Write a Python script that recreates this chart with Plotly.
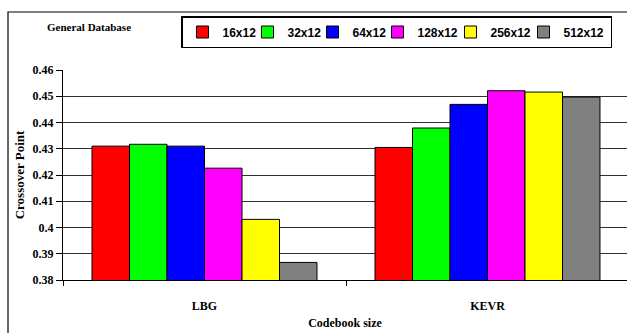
import plotly.graph_objects as go

# Codebook families on the x axis
methods = ["LBG", "KEVR"]

# Crossover point for each codebook size
size_16 = [0.4310, 0.4305]
size_32 = [0.4317, 0.4379]
size_64 = [0.4310, 0.4469]
size_128 = [0.4226, 0.4521]
size_256 = [0.4031, 0.4516]
size_512 = [0.3867, 0.4497]

series_names = ["16x12", "32x12", "64x12", "128x12", "256x12", "512x12"]
series_values = [size_16, size_32, size_64, size_128, size_256, size_512]
series_colors = ["#ff0000", "#00ff00", "#0000ff", "#ff00ff", "#ffff00", "#808080"]
legend_widths = [20, 20, 20, 28, 28, 42]

y_ticks = [0.38, 0.39, 0.40, 0.41, 0.42, 0.43, 0.44, 0.45, 0.46]
y_tick_text = ["0.38", "0.39", "0.4", "0.41", "0.42", "0.43", "0.44", "0.45", "0.46"]

serif = "Liberation Serif"
sans = "Liberation Sans"

fig = go.Figure()
for name, vals, color, lw in zip(series_names, series_values, series_colors, legend_widths):
    fig.add_trace(go.Bar(
        x=methods, y=vals, name=name,
        marker=dict(color=color, line=dict(color="#000000", width=1)),
        legendwidth=lw,
    ))

W, H = 627, 333
L, R, T, B = 63, 0, 70, 53
pw, ph = W - L - R, H - T - B


def px_x(px):
    return (px - L) / pw


def px_y(py):
    return (H - B - py) / ph


fig.update_layout(
    width=W, height=H,
    margin=dict(l=L, r=R, t=T, b=B),
    paper_bgcolor="white", plot_bgcolor="white",
    barmode="group", bargap=0.205, bargroupgap=0,
    showlegend=True,
    legend=dict(
        orientation="h", x=px_x(612), xanchor="right", y=px_y(16), yanchor="top",
        bordercolor="#000000", borderwidth=1.5, bgcolor="white",
        font=dict(family=sans, size=12, color="#000000", weight="bold"),
        traceorder="normal",
    ),
    xaxis=dict(
        range=[-0.5, -0.5 + pw / 283],
        showline=True, linecolor="#000000", linewidth=1,
        ticks="outside", tickson="boundaries", ticklen=5, tickcolor="#000000",
        tickfont=dict(family=serif, size=12, color="#000000", weight="bold"),
        ticklabelstandoff=15,
        showgrid=False,
        title=dict(text="Codebook size", standoff=6,
                   font=dict(family=serif, size=12, color="#000000", weight="bold")),
    ),
    yaxis=dict(
        range=[0.38, 0.46],
        tickvals=y_ticks, ticktext=y_tick_text,
        showline=True, linecolor="#000000", linewidth=1,
        ticks="outside", ticklen=6, tickcolor="#000000",
        tickfont=dict(family=serif, size=12, color="#000000", weight="bold"),
        showgrid=True, gridcolor="#303030", gridwidth=1,
        zeroline=False,
        title=dict(text="Crossover Point", standoff=5,
                   font=dict(family=serif, size=13, color="#000000", weight="bold")),
    ),
    annotations=[dict(
        text="General Database", xref="paper", yref="paper",
        x=px_x(89), y=px_y(27), xanchor="center", yanchor="middle",
        showarrow=False,
        font=dict(family=serif, size=11, color="#000000", weight="bold"),
    )],
    shapes=[dict(
        type="rect", xref="paper", yref="paper",
        x0=px_x(8), x1=1.2, y0=-0.5, y1=px_y(12),
        line=dict(color="#000000", width=1.2), fillcolor="rgba(0,0,0,0)",
    )],
)

fig.write_html("out.html")
